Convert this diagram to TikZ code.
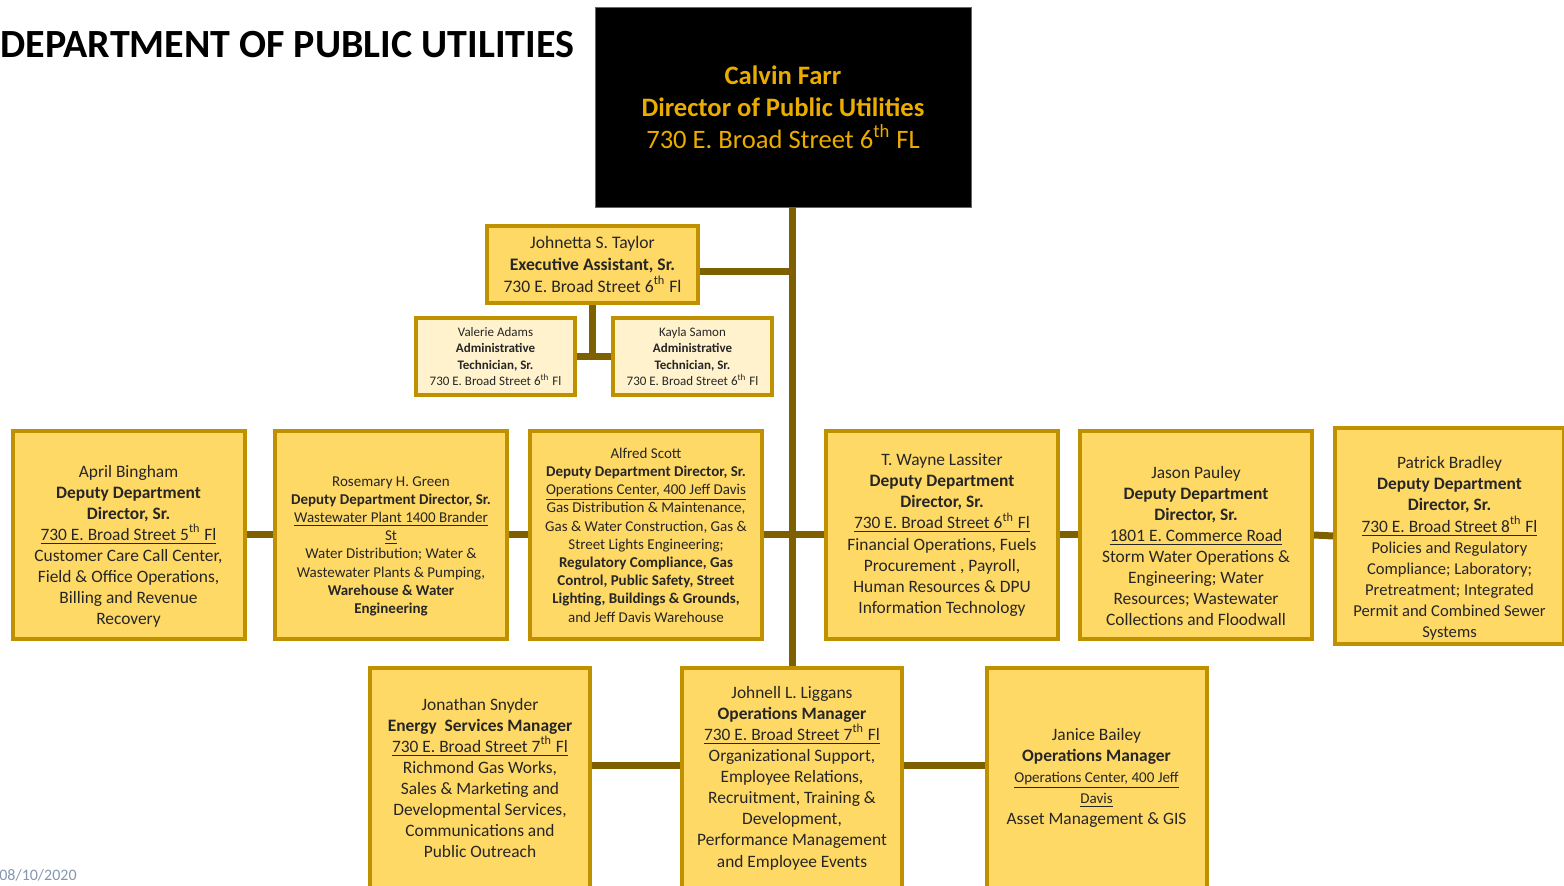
\documentclass[tikz,border=0pt]{standalone}
\usepackage{fontspec}
\setmainfont{Carlito}
\definecolor{boxfill}{RGB}{255,217,102}
\definecolor{boxline}{RGB}{191,144,0}
\definecolor{palefill}{RGB}{255,242,204}
\definecolor{linkbrown}{RGB}{127,96,0}
\definecolor{dirgold}{RGB}{235,172,0}
\definecolor{inktext}{RGB}{38,38,38}
\definecolor{dategray}{RGB}{132,151,176}
\newcommand{\padtop}[1]{\rule{0pt}{#1}}

\begin{document}
\begin{tikzpicture}[x=0.5pt,y=-0.5pt,
  unitbox/.style={draw=boxline,fill=boxfill,line width=2pt,align=center,text=inktext,inner sep=2pt},
  deputy/.style={unitbox,minimum width=116pt,minimum height=104pt,font=\fontsize{8.7}{10.55}\selectfont},
  smalldeputy/.style={deputy,font=\fontsize{7.5}{9.1}\selectfont},
  lowerbox/.style={unitbox,minimum width=110pt,minimum height=110pt,font=\fontsize{8.7}{10.55}\selectfont},
  admin/.style={unitbox,fill=palefill,minimum width=79.5pt,minimum height=38.5pt,font=\fontsize{6.5}{8.15}\selectfont},
  link/.style={draw=linkbrown,line width=3.5pt}]
\useasboundingbox (0,0) rectangle (1564,886);

\node[anchor=west,inner sep=0pt,font=\fontsize{20}{24}\selectfont\bfseries] (title) at (0,45) {DEPARTMENT OF PUBLIC UTILITIES};
\node[fill=black,draw=black!60,minimum width=188pt,minimum height=100pt,align=center,text=dirgold,font=\fontsize{13.3}{16}\selectfont] (director) at (783,107)
  {\textbf{Calvin Farr}\\\textbf{Director of Public Utilities}\\730 E. Broad Street 6\textsuperscript{th} FL};

\node[unitbox,minimum width=105.5pt,minimum height=38.5pt,font=\fontsize{8.8}{10.8}\selectfont] (exec) at (592.5,264.5)
  {Johnetta S. Taylor\\\textbf{Executive Assistant, Sr.}\\730 E. Broad Street 6\textsuperscript{th} Fl};
\node[admin] (adminL) at (495.5,356.5)
  {Valerie Adams\\\textbf{Administrative}\\\textbf{Technician, Sr.}\\730 E. Broad Street 6\textsuperscript{th} Fl};
\node[admin] (adminR) at (692.5,356.5)
  {Kayla Samon\\\textbf{Administrative}\\\textbf{Technician, Sr.}\\730 E. Broad Street 6\textsuperscript{th} Fl};

\node[deputy] (dep1) at (128.5,535)
  {\padtop{17.5pt}April Bingham\\\textbf{Deputy Department}\\\textbf{Director, Sr.}\\\underline{730 E. Broad Street 5\textsuperscript{th} Fl}\\Customer Care Call Center,\\Field \& Office Operations,\\Billing and Revenue\\Recovery};
\node[smalldeputy] (dep2) at (391,535)
  {\padtop{16pt}Rosemary H. Green\\\textbf{Deputy Department Director, Sr.}\\\underline{Wastewater Plant 1400 Brander}\\\underline{St}\\Water Distribution; Water \&\\Wastewater Plants \& Pumping,\\\textbf{Warehouse \& Water}\\\textbf{Engineering}};
\node[smalldeputy] (dep3) at (646,535)
  {Alfred Scott\\\textbf{Deputy Department Director, Sr.}\\\underline{Operations Center, 400 Jeff Davis}\\Gas Distribution \& Maintenance,\\Gas \& Water Construction, Gas \&\\Street Lights Engineering;\\\textbf{Regulatory Compliance, Gas}\\\textbf{Control, Public Safety, Street}\\\textbf{Lighting, Buildings \& Grounds,}\\and Jeff Davis Warehouse};
\node[deputy] (dep4) at (942,535)
  {T. Wayne Lassiter\\\textbf{Deputy Department}\\\textbf{Director, Sr.}\\\underline{730 E. Broad Street 6\textsuperscript{th} Fl}\\Financial Operations, Fuels\\Procurement , Payroll,\\Human Resources \& DPU\\Information Technology};
\node[deputy] (dep5) at (1196,535)
  {\padtop{17pt}Jason Pauley\\\textbf{Deputy Department}\\\textbf{Director, Sr.}\\\underline{1801 E. Commerce Road}\\Storm Water Operations \&\\Engineering; Water\\Resources; Wastewater\\Collections and Floodwall};
\node[deputy,minimum width=114.5pt] (dep6) at (1449.5,536)
  {\padtop{18.5pt}Patrick Bradley\\\textbf{Deputy Department}\\\textbf{Director, Sr.}\\\underline{730 E. Broad Street 8\textsuperscript{th} Fl}\\{\fontsize{8.3}{10}\selectfont Policies and Regulatory}\\{\fontsize{8.3}{10}\selectfont Compliance; Laboratory;}\\{\fontsize{8.3}{10}\selectfont Pretreatment; Integrated}\\{\fontsize{8.3}{10}\selectfont Permit and Combined Sewer}\\{\fontsize{8.3}{10}\selectfont Systems}};

\node[lowerbox] (snyder) at (480,778)
  {Jonathan Snyder\\\textbf{Energy\ \ Services Manager}\\\underline{730 E. Broad Street 7\textsuperscript{th} Fl}\\Richmond Gas Works,\\Sales \& Marketing and\\Developmental Services,\\Communications and\\Public Outreach};
\node[lowerbox] (liggans) at (792,778)
  {Johnell L. Liggans\\\textbf{Operations Manager}\\\underline{730 E. Broad Street 7\textsuperscript{th} Fl}\\Organizational Support,\\Employee Relations,\\Recruitment, Training \&\\Development,\\Performance Management\\and Employee Events};
\node[lowerbox] (bailey) at (1096.5,778)
  {Janice Bailey\\\textbf{Operations Manager}\\{\fontsize{7.5}{9}\selectfont\underline{Operations Center, 400 Jeff}}\\{\fontsize{7.5}{9}\selectfont\underline{Davis}}\\Asset Management \& GIS};

\node[anchor=east,inner sep=0pt,text=dategray,font=\fontsize{8}{9.5}\selectfont] (date) at (77,875) {08/10/2020};

\coordinate (execlink) at ([yshift=-3.75pt]exec.east);
\draw[link] (director.south -| liggans.north) -- (liggans.north);
\draw[link] (execlink) -- (execlink -| liggans.north);
\draw[link] (exec.south) -- (exec.south |- adminL.east);
\draw[link] (adminL.east) -- (adminR.west);
\foreach \a/\b in {dep1/dep2,dep2/dep3,dep3/dep4,dep4/dep5,dep5/dep6}
  \draw[link] (\a.east) -- (\b.west);
\draw[link] ([yshift=6pt]snyder.east) -- ([yshift=6pt]liggans.west);
\draw[link] ([yshift=6pt]liggans.east) -- ([yshift=6pt]bailey.west);
\end{tikzpicture}
\end{document}
